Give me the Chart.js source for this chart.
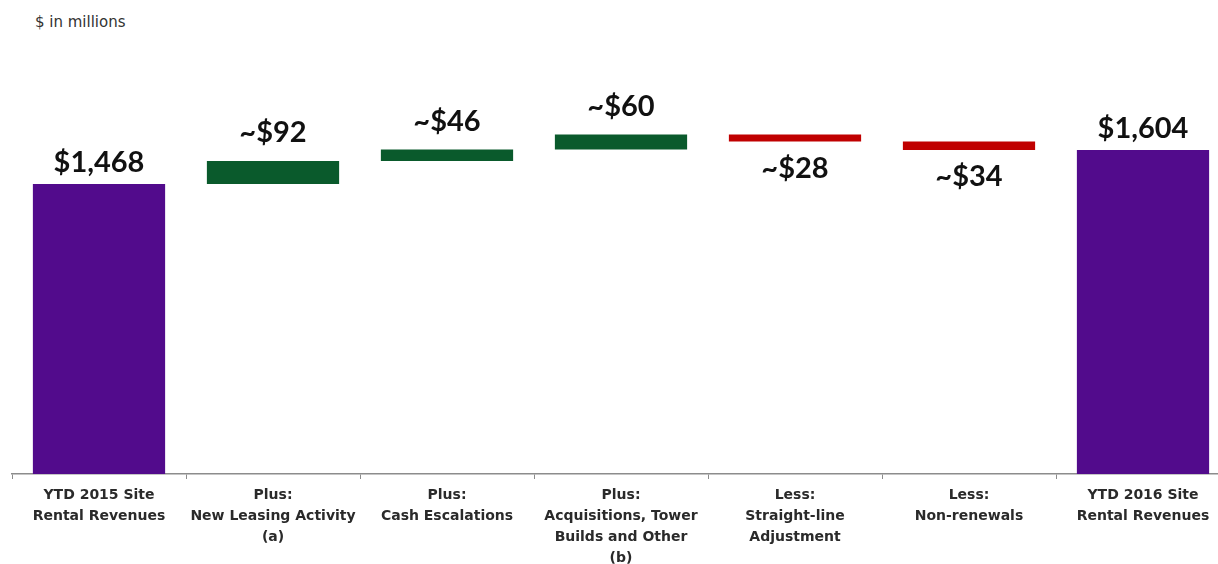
<!DOCTYPE html>
<html>
<head>
<meta charset="utf-8">
<script src="https://cdn.jsdelivr.net/npm/chart.js@4.4.0/dist/chart.umd.min.js"></script>
<style>
  html, body { margin: 0; padding: 0; background: #fff; overflow: hidden; width: 1218px; height: 564px; }
  #wrap { position: absolute; left: 0; top: 0; width: 1230px; height: 572px; }
  #unit { position: absolute; left: 35px; top: 13px; font: 15px "DejaVu Sans", sans-serif; color: #333; }
</style>
</head>
<body>
<div id="unit">$ in millions</div>
<div id="wrap"><canvas id="chartWaterfall"></canvas></div>
<script>
// categories (multi-line tick labels)
var categories = [
  ["YTD 2015 Site", "Rental Revenues"],
  ["Plus:", "New Leasing Activity", "(a)"],
  ["Plus:", "Cash Escalations"],
  ["Plus:", "Acquisitions, Tower", "Builds and Other", "(b)"],
  ["Less:", "Straight-line", "Adjustment"],
  ["Less:", "Non-renewals"],
  ["YTD 2016 Site", "Rental Revenues"]
];
// step values, first and last are totals
var steps = [1468, 92, 46, 60, -28, -34, 1604];
var isTotal = [true, false, false, false, false, false, true];
var valueLabels = ["$1,468", "~$92", "~$46", "~$60", "~$28", "~$34", "$1,604"];

var purple = "#520b8c", green = "#0a5a2c", red = "#c00000";

// build floating ranges
var ranges = [], colors = [], running = 0;
steps.forEach(function(v, i) {
  if (isTotal[i]) {
    ranges.push([308, v]);
    running = v;
    colors.push(purple);
  } else {
    ranges.push([running, running + v]);
    running += v;
    colors.push(v >= 0 ? green : red);
  }
});

var labelPlugin = {
  id: 'valueLabels',
  afterDatasetsDraw: function(chart) {
    var ctx = chart.ctx, meta = chart.getDatasetMeta(0), y = chart.scales.y;
    ctx.save();
    ctx.font = 'bold 29px Lato, sans-serif';
    ctx.fillStyle = '#111';
    ctx.textAlign = 'center';
    ctx.textBaseline = 'alphabetic';
    meta.data.forEach(function(bar, i) {
      var r = ranges[i], top = y.getPixelForValue(Math.max(r[0], r[1])),
          bottom = y.getPixelForValue(Math.min(r[0], r[1])), ty;
      if (isTotal[i]) ty = top - 12;
      else if (steps[i] >= 0) ty = top - 19;
      else ty = bottom + 36;
      ctx.fillText(valueLabels[i], bar.x, ty);
    });
    ctx.restore();
  }
};

new Chart(document.getElementById('chartWaterfall'), {
  type: 'bar',
  data: {
    labels: categories,
    datasets: [{
      data: ranges,
      backgroundColor: colors,
      borderSkipped: false,
      categoryPercentage: 1,
      barPercentage: 0.76
    }]
  },
  options: {
    responsive: true,
    maintainAspectRatio: false,
    animation: false,
    layout: { padding: { left: 12, right: 0, top: 60, bottom: 0 } },
    plugins: { legend: { display: false }, tooltip: { enabled: false } },
    scales: {
      x: {
        offset: true,
        afterFit: function(s) { s.height = 98; },
        border: { color: '#8c8c8c', width: 1.5 },
        grid: { offset: true, drawOnChartArea: false, drawTicks: true, tickLength: 5, color: '#8c8c8c' },
        ticks: {
          color: '#2a2a2a',
          padding: 6,
          maxRotation: 0,
          autoSkip: false,
          font: { family: 'DejaVu Sans', weight: 'bold', size: 14, lineHeight: 1.5 }
        }
      },
      y: {
        display: false,
        min: 308,
        max: 1964
      }
    }
  },
  plugins: [labelPlugin]
});
</script>
</body>
</html>
